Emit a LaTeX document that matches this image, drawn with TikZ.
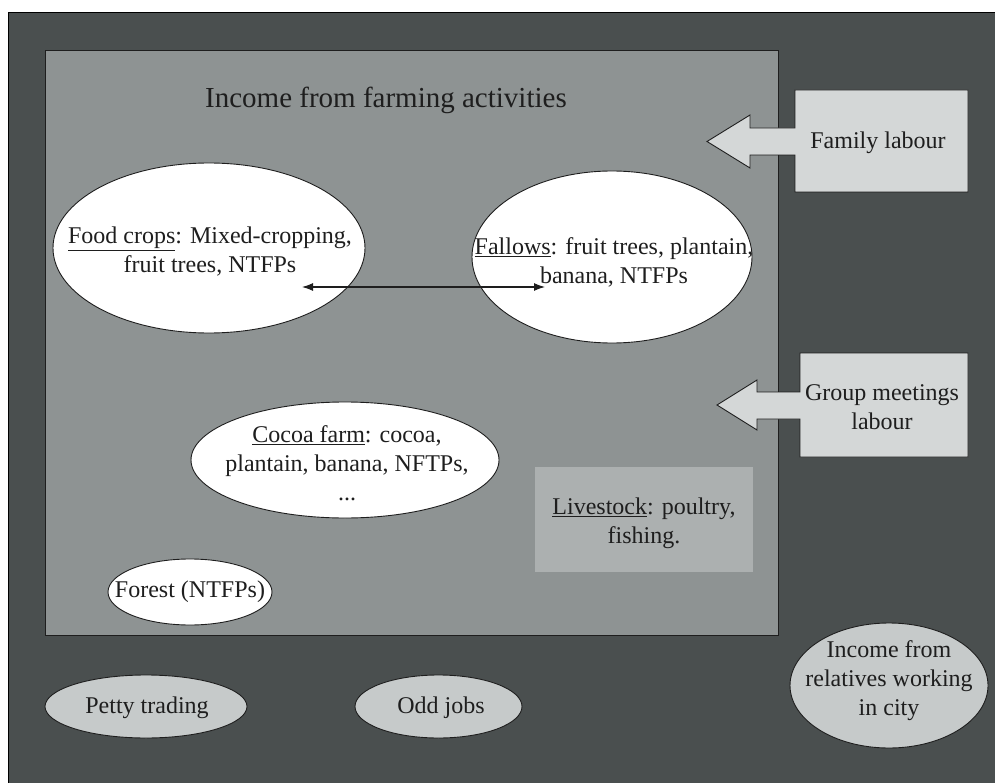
\documentclass[tikz,border=0pt]{standalone}
\usepackage{fontspec}
\setmainfont{Liberation Serif}
\usetikzlibrary{arrows.meta,shapes.geometric}
\definecolor{framegray}{HTML}{4A4F4F}
\definecolor{fieldgray}{HTML}{8E9393}
\definecolor{livegray}{HTML}{ACB0B0}
\definecolor{calloutgray}{HTML}{D4D7D7}
\definecolor{pillgray}{HTML}{C6CACA}
\definecolor{inkgray}{HTML}{1E1E1E}
\begin{document}
\begin{tikzpicture}[x=1pt,y=-1pt,
  txt/.style={font=\fontsize{24}{29}\selectfont, align=center, inner sep=0pt, text=inkgray},
  blob/.style={ellipse, draw=inkgray, line width=0.9pt, fill=white, inner sep=0pt},
  pill/.style={ellipse, draw=inkgray, line width=0.9pt, fill=pillgray, inner sep=0pt},
  callout/.style={draw=inkgray, line width=0.9pt, fill=calloutgray, line join=miter},
  link/.style={draw=inkgray, line width=1.1pt, {Latex[length=11pt,width=8pt]}-{Latex[length=11pt,width=8pt]}}]
\useasboundingbox (0,0) rectangle (995,783);
\fill[white] (0,0) rectangle (995,783);

% dark outer panel and the farming field
\draw[fill=framegray, draw=black, line width=0.8pt] (8,12) rectangle (996,784);
\draw[fill=fieldgray, draw=inkgray, line width=0.9pt] (45,50) rectangle (778,635);

\node[txt, font=\fontsize{29}{34}\selectfont, anchor=west] (title) at (205,100) {Income from farming activities};

% labour callouts pointing into the field
\draw[callout] (968,90) -- (795,90) -- (795,128) -- (750,128) -- (750,115) -- (707,141.5)
  -- (750,168) -- (750,155) -- (795,155) -- (795,192) -- (968,192) -- cycle;
\node[txt] (family) at (878,143) {Family labour};

\draw[callout] (968,353) -- (800,353) -- (800,392) -- (757,392) -- (757,380) -- (717,405)
  -- (757,430) -- (757,419) -- (800,419) -- (800,457) -- (968,457) -- cycle;
\node[txt] (group) at (882,407) {Group meetings\\labour};

% farming activities
\node[blob, minimum width=312pt, minimum height=170pt] (food) at (209,248) {};
\node[txt] (foodtext) at (210,252) {\underline{Food crops}: Mixed-cropping,\\fruit trees, NTFPs};

\node[blob, minimum width=280pt, minimum height=172pt] (fallow) at (612,257) {};
\node[txt] (fallowtext) at (614,262) {\underline{Fallows}: fruit trees, plantain,\\banana, NTFPs};

\coordinate (foodend) at (302,287);
\coordinate (fallowend) at (545,287);
\draw[link] (foodend) -- (fallowend);

\node[blob, minimum width=308pt, minimum height=116pt] (cocoa) at (345,460) {};
\node[txt] (cocoatext) at (347,463) {\underline{Cocoa farm}: cocoa,\\plantain, banana, NFTPs,\\...};

\fill[livegray] (535,467) rectangle (753,572);
\node[txt] (livestock) at (644,523) {\underline{Livestock}: poultry,\\fishing.};

\node[blob, minimum width=164pt, minimum height=66pt] (forest) at (190,592) {};
\node[txt] (foresttext) at (190,592) {Forest (NTFPs)};

% other income sources
\node[pill, minimum width=202pt, minimum height=63pt] (petty) at (146,706.5) {};
\node[txt] (pettytext) at (147,708) {Petty trading};

\node[pill, minimum width=167pt, minimum height=63pt] (odd) at (438.5,706.5) {};
\node[txt] (oddtext) at (441,708) {Odd jobs};

\node[pill, minimum width=198pt, minimum height=125pt] (relatives) at (889,685.5) {};
\node[txt] (relativestext) at (889,681) {Income from\\relatives working\\in city};
\end{tikzpicture}
\end{document}
